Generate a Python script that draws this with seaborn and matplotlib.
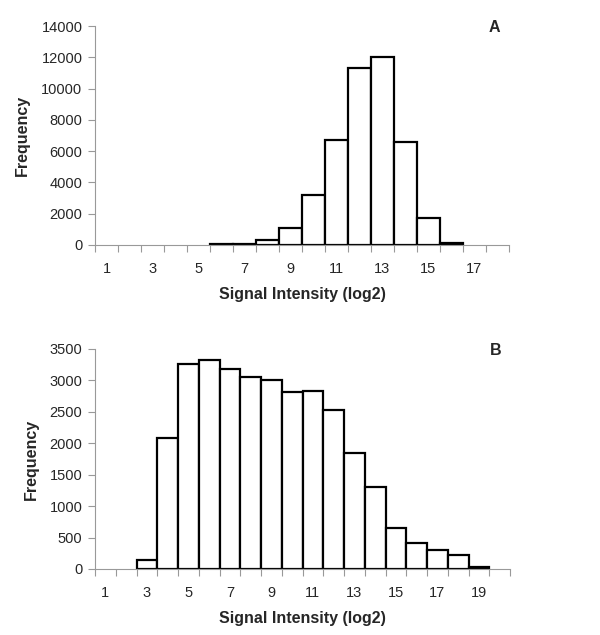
import matplotlib
matplotlib.use("Agg")
import matplotlib.pyplot as plt
import seaborn as sns
import pandas as pd
from matplotlib.ticker import FixedLocator

sns.set_theme(style="white")
plt.rcParams['font.family'] = ['Liberation Sans', 'DejaVu Sans']

# Panel A data
cats_a = list(range(1, 19))
freq_a = [0, 0, 0, 0, 0, 50, 70, 340, 1090, 3200, 6710, 11310, 12020, 6590, 1730, 100, 0, 0]
yticks_a = [0, 2000, 4000, 6000, 8000, 10000, 12000, 14000]

# Panel B data
cats_b = list(range(1, 21))
freq_b = [0, 0, 138, 2084, 3256, 3320, 3187, 3049, 3007, 2821, 2837, 2530, 1851, 1305, 647, 419, 308, 223, 37, 0]
yticks_b = [0, 500, 1000, 1500, 2000, 2500, 3000, 3500]

fig = plt.figure(figsize=(6, 6.35), dpi=100)
ax_a = fig.add_axes([95/600, 1-245/635, 414/600, 219/635])
ax_b = fig.add_axes([95/600, 1-569/635, 415/600, 220/635])

def draw(ax, cats, freq, yticks, letter, ly):
    df = pd.DataFrame({"cat": [str(c) for c in cats], "freq": freq})
    sns.barplot(data=df, x="cat", y="freq", order=[str(c) for c in cats], ax=ax,
                color="white", edgecolor="black", linewidth=1.6, width=1.0,
                saturation=1)
    for p in ax.patches:
        if p.get_height() == 0:
            p.set_visible(False)
    n = len(cats)
    ax.set_xlim(-0.5, n - 0.5)
    ax.set_ylim(0, yticks[-1])
    ax.set_yticks(yticks)
    ax.set_yticklabels([str(v) for v in yticks], fontsize=10.5)
    major = [i for i, c in enumerate(cats) if c % 2 == 1]
    ax.set_xticks(major)
    ax.set_xticklabels([str(cats[i]) for i in major], fontsize=10.5)
    ax.xaxis.set_minor_locator(FixedLocator([i - 0.5 for i in range(n + 1)]))
    ax.tick_params(axis="x", which="major", length=0, pad=12)
    ax.tick_params(axis="x", which="minor", length=5, width=0.8, color="#999999", direction="out", bottom=True)
    ax.tick_params(axis="y", which="major", length=5, width=0.8, color="#999999", direction="out", left=True, pad=4)
    for s in ["top", "right"]:
        ax.spines[s].set_visible(False)
    for s in ["left", "bottom"]:
        ax.spines[s].set_color("#999999")
        ax.spines[s].set_linewidth(0.8)
    ax.set_xlabel("Signal Intensity (log2)", fontsize=11.5, fontweight="bold", labelpad=8)
    ax.set_ylabel("Frequency", fontsize=11.5, fontweight="bold", labelpad=8)
    ax.text(0.965, ly, letter, transform=ax.transAxes, ha="center", va="center",
            fontsize=11.5, fontweight="bold")
    ax.grid(False)

draw(ax_a, cats_a, freq_a, yticks_a, "A", 0.995)
draw(ax_b, cats_b, freq_b, yticks_b, "B", 0.995)

fig.savefig("out.png", dpi=100)
